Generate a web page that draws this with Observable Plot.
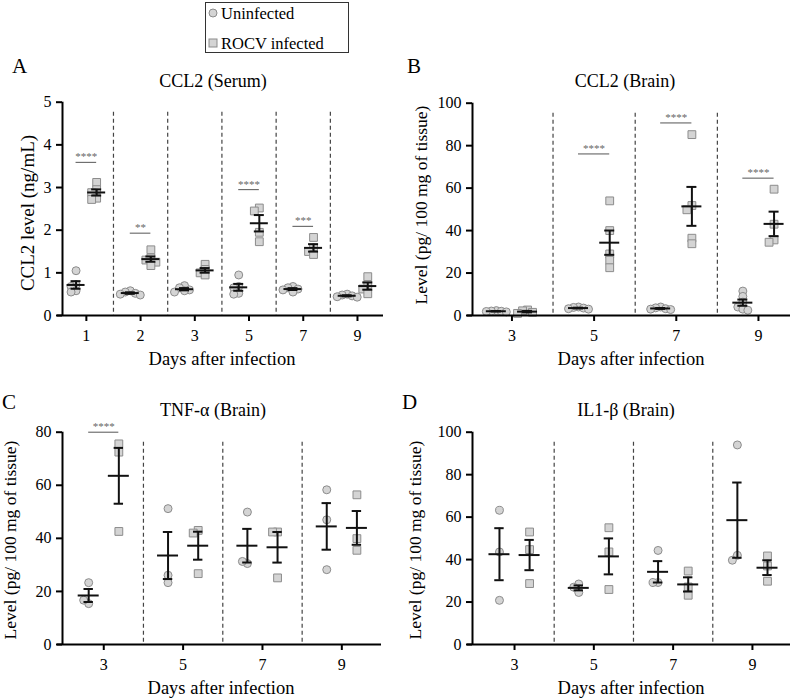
<!DOCTYPE html>
<html><head><meta charset="utf-8">
<script src="https://cdn.jsdelivr.net/npm/d3@7"></script>
<script src="https://cdn.jsdelivr.net/npm/@observablehq/plot@0.6"></script>
<style>
body{margin:0;background:#fff;}
#root{position:relative;width:797px;height:700px;overflow:hidden;font-family:"Liberation Serif","DejaVu Serif","Times New Roman",serif;}
.panel{position:absolute;}
#overlay{position:absolute;left:0;top:0;pointer-events:none;}
#overlay text{font-family:"Liberation Serif","DejaVu Serif","Times New Roman",serif;}
.panel svg text{font-family:"Liberation Serif","DejaVu Serif","Times New Roman",serif;}
</style></head>
<body><div id="root"></div>
<script>
// ---------- DATA ----------
// Panel A: CCL2 (Serum), ng/mL
const daysA = ["1", "2", "3", "5", "7", "9"];
const serumUninfected = [
  [1.05, 0.72, 0.68, 0.58, 0.55],
  [0.58, 0.55, 0.52, 0.50, 0.48],
  [0.70, 0.65, 0.60, 0.58, 0.55],
  [0.95, 0.68, 0.65, 0.52, 0.50],
  [0.68, 0.65, 0.62, 0.60, 0.55],
  [0.50, 0.48, 0.46, 0.44, 0.43]
];
const serumInfected = [
  [3.12, 2.95, 2.88, 2.75, 2.72],
  [1.54, 1.35, 1.30, 1.25, 1.17],
  [1.20, 1.08, 1.00, 0.95],
  [2.52, 2.45, 1.95, 1.73],
  [1.83, 1.58, 1.50, 1.43],
  [0.91, 0.72, 0.62, 0.51]
];
const sigDaysA = ["1", "2", "5", "7"];
const sigLabelsA = ["****", "**", "****", "***"];
const sigLevelsA = [3.59, 1.93, 2.95, 2.09];
const yTicksA = [0, 1, 2, 3, 4, 5];

// Panel B: CCL2 (Brain), pg/100 mg
const daysB = ["3", "5", "7", "9"];
const ccl2BrainUninfected = [
  [2.3, 2.1, 2.0, 1.9, 1.7],
  [4.0, 3.8, 3.5, 3.2, 3.0],
  [4.0, 3.6, 3.2, 3.0, 2.8],
  [11.5, 9.0, 6.3, 4.0, 3.0, 2.5]
];
const ccl2BrainInfected = [
  [2.6, 2.2, 1.5, 1.0],
  [54, 40, 29, 26, 22.5],
  [85.2, 51.8, 49.8, 36.4, 33.8],
  [59.5, 43, 35.6, 34.5]
];
const sigDaysB = ["5", "7", "9"];
const sigLabelsB = ["****", "****", "****"];
const sigLevelsB = [76.1, 90.7, 64.7];
const yTicksB = [0, 20, 40, 60, 80, 100];

// Panel C: TNF-α (Brain)
const daysC = ["3", "5", "7", "9"];
const tnfUninfected = [
  [23.3, 15.4, 16.7],
  [51.2, 23.3, 26.1],
  [49.9, 30.5, 31.3],
  [58.3, 47.0, 28.2]
];
const tnfInfected = [
  [75.6, 72.5, 42.6],
  [43.0, 42.0, 26.7],
  [42.4, 42.4, 25.1],
  [56.4, 39.9, 35.5]
];
const sigDaysC = ["3"];
const sigLabelsC = ["****"];
const sigLevelsC = [80];
const yTicksC = [0, 20, 40, 60, 80];

// Panel D: IL1-β (Brain)
const daysD = ["3", "5", "7", "9"];
const il1Uninfected = [
  [63.2, 43.6, 20.8],
  [28.5, 27.0, 24.5],
  [44.3, 29.2, 29.2],
  [94.0, 42.0, 39.7]
];
const il1Infected = [
  [53.0, 44.7, 28.7],
  [55.0, 43.6, 25.9],
  [34.6, 27.1, 23.2],
  [41.7, 37.0, 29.8]
];
const sigDaysD = [];
const sigLabelsD = [];
const sigLevelsD = [];
const yTicksD = [0, 20, 40, 60, 80, 100];

// ---------- RENDER ----------
const FONT = "'Liberation Serif', 'DejaVu Serif', 'Times New Roman', serif";
const root = document.getElementById("root");

function panel(cfg) {
  const {days, uninf, inf, yTicks, sigDays, sigLabels, sigLevels,
         left, top, width, height, mL, mR, mT, mB, xDom, meanHalf, capHalf} = cfg;
  const yDomain = [yTicks[0], yTicks[yTicks.length - 1]];
  const n = days.length;
  const step = (width - mL - mR) / (xDom[1] - xDom[0]);
  const yPx = d3.scaleLinear(yDomain, [height - mB, mT]);
  const OFF = 0.19;

  function points(groups, side) {
    const out = [];
    groups.forEach((vals, i) => {
      const placed = [];
      vals.forEach(v => {
        const py = yPx(v);
        let best = 0;
        for (const k of [0, -1, 1, -2, 2]) {
          const px = k * 5;
          if (placed.every(p => Math.hypot(p.px - px, p.py - py) >= 5)) { best = px; break; }
        }
        placed.push({px: best, py});
        out.push({x: i + side * OFF + best / step, y: v});
      });
    });
    return out;
  }
  function stats(groups, side) {
    return groups.map((vals, i) => {
      const m = d3.mean(vals);
      const sem = d3.deviation(vals) / Math.sqrt(vals.length);
      return {x: i + side * OFF, mean: m, lo: m - sem, hi: m + sem};
    });
  }
  const ptsU = points(uninf, -1), ptsI = points(inf, 1);
  const st = stats(uninf, -1).concat(stats(inf, 1));
  const sig = sigDays.map((d, k) => ({i: days.indexOf(d), y: sigLevels[k], label: sigLabels[k]}));

  const svg = Plot.plot({
    width, height, marginLeft: mL, marginRight: mR, marginTop: mT, marginBottom: mB,
    x: {domain: xDom},
    y: {domain: yDomain},
    style: {fontFamily: FONT, fontSize: "16px", background: "transparent", overflow: "visible", color: "#000"},
    marks: [
      Plot.ruleX(d3.range(1, n), {x: i => i - 0.5, stroke: "#444", strokeWidth: 1.2, strokeDasharray: "4,3", insetTop: 10}),
      Plot.dot(ptsU, {x: "x", y: "y", r: 4, fill: "#d4d4d4", stroke: "#8c8c8c", strokeWidth: 1}),
      Plot.dot(ptsI, {x: "x", y: "y", symbol: "square", r: 4.4, fill: "#d4d4d4", stroke: "#8c8c8c", strokeWidth: 1}),
      Plot.ruleX(st, {x: "x", y1: "lo", y2: "hi", stroke: "#111", strokeWidth: 2}),
      Plot.ruleY(st, {y: "lo", x1: d => d.x - capHalf / step, x2: d => d.x + capHalf / step, stroke: "#111", strokeWidth: 2}),
      Plot.ruleY(st, {y: "hi", x1: d => d.x - capHalf / step, x2: d => d.x + capHalf / step, stroke: "#111", strokeWidth: 2}),
      Plot.ruleY(st, {y: "mean", x1: d => d.x - meanHalf / step, x2: d => d.x + meanHalf / step, stroke: "#111", strokeWidth: 2}),
      Plot.ruleY(sig, {y: "y", x1: d => d.i - 0.19, x2: d => d.i + 0.19, stroke: "#555", strokeWidth: 1}),
      Plot.text(sig, {x: "i", y: "y", text: "label", fontSize: 11, fill: "#666", lineAnchor: "middle", dy: -5.5}),
      Plot.axisY({ticks: yTicks, tickFormat: d => String(d), tickSize: 6, tickPadding: 5, strokeWidth: 2, fontSize: 16, label: null}),
      Plot.axisX({ticks: d3.range(n), tickFormat: i => days[i], tickSize: 6, tickPadding: 8, strokeWidth: 2, fontSize: 16, label: null}),
      Plot.ruleX([xDom[0]], {stroke: "#000", strokeWidth: 2}),
      Plot.ruleY([yDomain[0]], {stroke: "#000", strokeWidth: 2, insetLeft: -5})
    ]
  });
  const div = document.createElement("div");
  div.className = "panel";
  div.style.left = left + "px";
  div.style.top = top + "px";
  div.appendChild(svg);
  root.appendChild(div);
}

panel({days: daysA, uninf: serumUninfected, inf: serumInfected, yTicks: yTicksA,
  sigDays: sigDaysA, sigLabels: sigLabelsA, sigLevels: sigLevelsA,
  left: 0, top: 60, width: 400, height: 310, mL: 62, mR: 17, mT: 41.7, mB: 55,
  xDom: [-0.44, 5.48], meanHalf: 9, capHalf: 5});
panel({days: daysB, uninf: ccl2BrainUninfected, inf: ccl2BrainInfected, yTicks: yTicksB,
  sigDays: sigDaysB, sigLabels: sigLabelsB, sigLevels: sigLevelsB,
  left: 400, top: 60, width: 397, height: 310, mL: 72, mR: 7, mT: 42.7, mB: 55,
  xDom: [-0.48, 3.39], meanHalf: 10, capHalf: 5});
panel({days: daysC, uninf: tnfUninfected, inf: tnfInfected, yTicks: yTicksC,
  sigDays: sigDaysC, sigLabels: sigLabelsC, sigLevels: sigLevelsC,
  left: 0, top: 380, width: 400, height: 320, mL: 62, mR: 19, mT: 51.7, mB: 56,
  xDom: [-0.52, 3.5], meanHalf: 10.5, capHalf: 4.7});
panel({days: daysD, uninf: il1Uninfected, inf: il1Infected, yTicks: yTicksD,
  sigDays: sigDaysD, sigLabels: sigLabelsD, sigLevels: sigLevelsD,
  left: 400, top: 380, width: 397, height: 320, mL: 72, mR: 7, mT: 51.7, mB: 56,
  xDom: [-0.53, 3.48], meanHalf: 10.5, capHalf: 4.7});

// ---------- TEXT OVERLAY (letters, titles, axis titles, legend) ----------
const ov = d3.select(root).append("svg").attr("id", "overlay")
  .attr("width", 797).attr("height", 700).attr("font-family", FONT);

const letters = [["A", 12, 73], ["B", 407, 73], ["C", 2, 409], ["D", 402, 409]];
ov.selectAll("text.letter").data(letters).join("text").attr("class", "letter")
  .attr("x", d => d[1]).attr("y", d => d[2]).attr("font-size", 21).text(d => d[0]);

const titles = [["CCL2 (Serum)", 213, 87], ["CCL2 (Brain)", 625, 87], ["TNF-α (Brain)", 213, 416], ["IL1-β (Brain)", 626, 416]];
ov.selectAll("text.title").data(titles).join("text").attr("class", "title")
  .attr("x", d => d[1]).attr("y", d => d[2]).attr("text-anchor", "middle").attr("font-size", 18).text(d => d[0]);

const xLabels = [[222, 365], [631, 365], [221, 694], [631, 694]];
ov.selectAll("text.xl").data(xLabels).join("text").attr("class", "xl")
  .attr("x", d => d[0]).attr("y", d => d[1]).attr("text-anchor", "middle").attr("font-size", 18.5).text("Days after infection");

const yLabels = [["CCL2 level (ng/mL)", 34, 213, 19], ["Level (pg/ 100 mg of tissue)", 427, 205, 17.5],
                 ["Level (pg/ 100 mg of tissue)", 16, 540, 17.5], ["Level (pg/ 100 mg of tissue)", 421, 540, 17.5]];
ov.selectAll("text.yl").data(yLabels).join("text").attr("class", "yl")
  .attr("transform", d => `translate(${d[1]},${d[2]}) rotate(-90)`)
  .attr("text-anchor", "middle").attr("font-size", d => d[3]).text(d => d[0]);

// legend
const lg = ov.append("g");
lg.append("rect").attr("x", 205.5).attr("y", 2.5).attr("width", 143).attr("height", 50)
  .attr("fill", "#fff").attr("stroke", "#333").attr("stroke-width", 1);
lg.append("circle").attr("cx", 213).attr("cy", 13).attr("r", 4).attr("fill", "#d4d4d4").attr("stroke", "#8c8c8c");
lg.append("text").attr("x", 221).attr("y", 19).attr("font-size", 16.5).text("Uninfected");
lg.append("rect").attr("x", 209).attr("y", 39).attr("width", 8).attr("height", 8).attr("fill", "#d4d4d4").attr("stroke", "#8c8c8c");
lg.append("text").attr("x", 221).attr("y", 49).attr("font-size", 16.5).text("ROCV infected");
</script>
</body></html>
